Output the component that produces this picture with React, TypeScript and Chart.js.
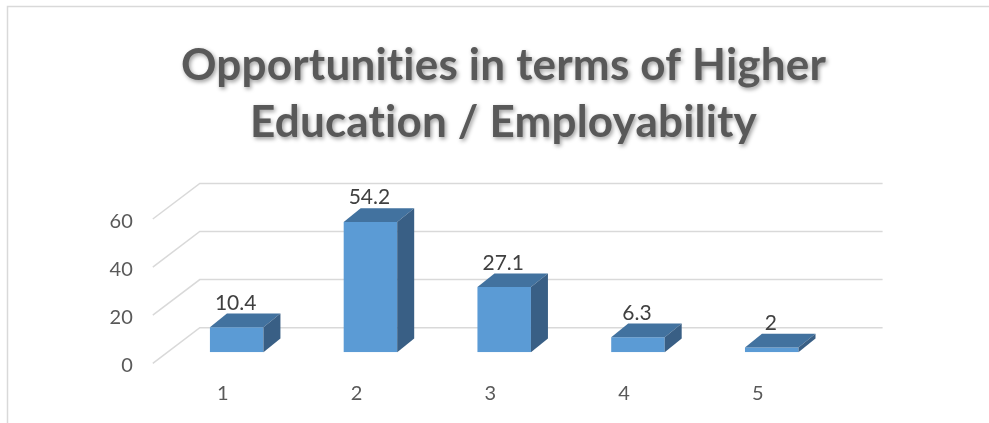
import { useEffect, useRef } from 'react';
import { Chart, registerables } from 'chart.js';

Chart.register(...registerables);

const categories = ['1', '2', '3', '4', '5'];
const values = [10.4, 54.2, 27.1, 6.3, 2];
const valueLabels = ['10.4', '54.2', '27.1', '6.3', '2'];
const yTickValues = [0, 20, 40, 60];
const titleLines = ['Opportunities in terms of Higher', 'Education / Employability'];

const FONT = 'Lato, "Open Sans", sans-serif';
const FRONT = '#5b9bd5';
const TOP = '#42729f';
const SIDE = '#395f85';
const GRID = '#d9d9d9';
const TEXT = '#595959';
const BAR_DX = 17;
const BAR_DY = 13.7;

export default function App() {
  const ref = useRef<HTMLCanvasElement>(null);

  useEffect(() => {
    const canvas = ref.current;
    if (!canvas) return;

    const excel3d = {
      id: 'excel3d',
      beforeDraw(chart: any) {
        const ctx = chart.ctx as CanvasRenderingContext2D;
        ctx.save();
        ctx.fillStyle = '#ffffff';
        ctx.fillRect(0, 0, chart.width, chart.height);
        ctx.strokeStyle = GRID;
        ctx.lineWidth = 1.5;
        ctx.beginPath();
        ctx.moveTo(7.5, chart.height);
        ctx.lineTo(7.5, 6.5);
        ctx.lineTo(chart.width, 6.5);
        ctx.stroke();

        ctx.font = `bold 44px ${FONT}`;
        (ctx as any).textRendering = 'optimizeSpeed';
        (ctx as any).letterSpacing = '0.2px';
        ctx.fillStyle = TEXT;
        ctx.textAlign = 'center';
        ctx.textBaseline = 'alphabetic';
        ctx.shadowColor = 'rgba(0,0,0,0.4)';
        ctx.shadowBlur = 4;
        ctx.shadowOffsetX = 1.5;
        ctx.shadowOffsetY = 2;
        ctx.fillText(titleLines[0], 503.5, 80);
        ctx.fillText(titleLines[1], 503.5, 136.7);
        (ctx as any).letterSpacing = '0px';
        (ctx as any).textRendering = 'auto';
        ctx.restore();
      },
      beforeDatasetsDraw(chart: any) {
        const ctx = chart.ctx as CanvasRenderingContext2D;
        const area = chart.chartArea;
        const y = chart.scales.y;
        ctx.save();
        ctx.strokeStyle = GRID;
        ctx.lineWidth = 1.5;
        for (const v of yTickValues) {
          const py = y.getPixelForValue(v);
          ctx.beginPath();
          ctx.moveTo(area.left - 17, py + 11);
          ctx.lineTo(area.left + 30, py - 24.6);
          ctx.lineTo(area.right + 44, py - 24.6);
          ctx.stroke();
        }
        ctx.restore();
      },
      afterDatasetsDraw(chart: any) {
        const ctx = chart.ctx as CanvasRenderingContext2D;
        const meta = chart.getDatasetMeta(0);
        ctx.save();
        meta.data.forEach((bar: any, i: number) => {
          const { x, y, base, width } = bar.getProps(['x', 'y', 'base', 'width'], true);
          const L = x - width / 2;
          const R = x + width / 2;
          ctx.fillStyle = TOP;
          ctx.beginPath();
          ctx.moveTo(L, y);
          ctx.lineTo(L + BAR_DX, y - BAR_DY);
          ctx.lineTo(R + BAR_DX, y - BAR_DY);
          ctx.lineTo(R, y);
          ctx.closePath();
          ctx.fill();
          ctx.fillStyle = SIDE;
          ctx.beginPath();
          ctx.moveTo(R, y);
          ctx.lineTo(R + BAR_DX, y - BAR_DY);
          ctx.lineTo(R + BAR_DX, base - BAR_DY);
          ctx.lineTo(R, base);
          ctx.closePath();
          ctx.fill();

          ctx.fillStyle = '#404040';
          ctx.font = `21px ${FONT}`;
          ctx.textAlign = 'center';
          ctx.textBaseline = 'middle';
          ctx.fillText(valueLabels[i], x - 1, y - 24.3);
        });
        ctx.restore();
      },
    };

    const chart = new Chart(canvas, {
      type: 'bar',
      data: {
        labels: categories,
        datasets: [
          {
            data: values,
            backgroundColor: FRONT,
            borderWidth: 0,
            barPercentage: 0.4,
            categoryPercentage: 1,
          },
        ],
      },
      options: {
        animation: false,
        responsive: false,
        devicePixelRatio: 1,
        layout: { padding: { top: 208, left: 89.8, right: 150.4, bottom: 10.7 } },
        plugins: { legend: { display: false }, tooltip: { enabled: false }, title: { display: false } },
        scales: {
          x: {
            grid: { display: false, drawTicks: false },
            border: { display: false },
            ticks: {
              color: TEXT,
              font: { family: FONT, size: 20 },
              padding: 29,
              labelOffset: -14,
              maxRotation: 0,
            },
            afterFit(scale: any) {
              scale.height = 60;
              scale.paddingLeft = 0;
              scale.paddingRight = 0;
            },
          },
          y: {
            min: 0,
            max: 60,
            grid: { display: false, drawTicks: false },
            border: { display: false },
            ticks: {
              stepSize: 20,
              color: TEXT,
              font: { family: FONT, size: 20 },
              padding: 37,
              labelOffset: 13.6,
            },
            afterFit(scale: any) {
              scale.width = 80;
              scale.paddingTop = 0;
              scale.paddingBottom = 0;
            },
          },
        },
      },
      plugins: [excel3d],
    } as any);

    return () => chart.destroy();
  }, []);

  return (
    <div style={{ position: 'fixed', left: 0, top: 0, width: 989, height: 423, background: '#fff' }}>
      <canvas ref={ref} width={989} height={423} style={{ display: 'block' }} />
    </div>
  );
}
